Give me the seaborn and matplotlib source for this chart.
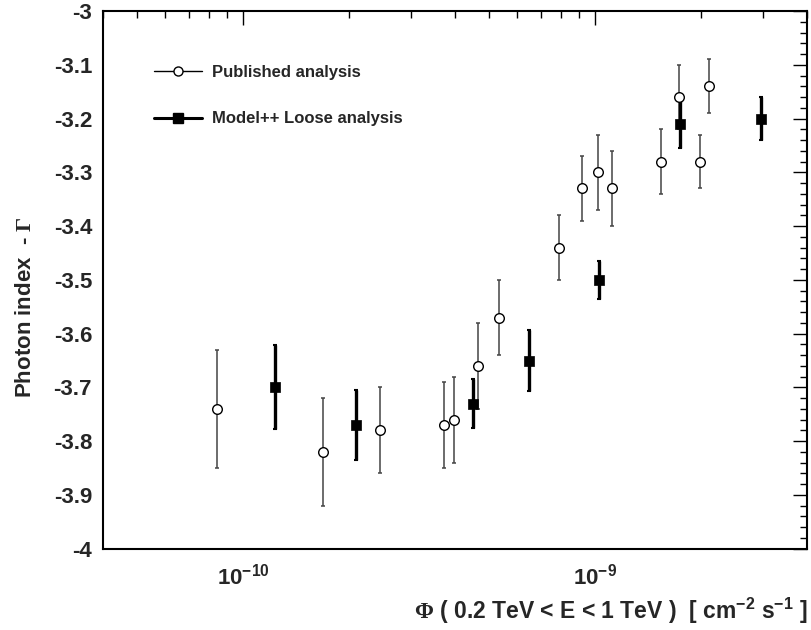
import matplotlib
matplotlib.use("Agg")
import matplotlib.pyplot as plt
import seaborn as sns
from matplotlib.lines import Line2D
from matplotlib.ticker import MultipleLocator, LogLocator, NullFormatter

# published analysis (open circles)
pub_flux = [8.42e-11, 1.69e-10, 2.45e-10, 3.73e-10, 3.97e-10, 4.65e-10, 5.33e-10,
            7.87e-10, 9.16e-10, 1.016e-9, 1.117e-9, 1.537e-9, 1.729e-9, 1.983e-9, 2.104e-9]
pub_index = [-3.74, -3.82, -3.78, -3.77, -3.76, -3.66, -3.57,
             -3.44, -3.33, -3.30, -3.33, -3.28, -3.16, -3.28, -3.14]
pub_err = [0.11, 0.10, 0.08, 0.08, 0.08, 0.08, 0.07,
           0.06, 0.06, 0.07, 0.07, 0.06, 0.06, 0.05, 0.05]

# Model++ Loose analysis (filled squares)
loose_flux = [1.228e-10, 2.095e-10, 4.49e-10, 6.49e-10, 1.026e-9, 1.745e-9, 2.95e-9]
loose_index = [-3.70, -3.77, -3.73, -3.65, -3.50, -3.21, -3.20]
loose_err = [0.078, 0.065, 0.045, 0.056, 0.036, 0.045, 0.04]

y_ticks = [-4.0, -3.9, -3.8, -3.7, -3.6, -3.5, -3.4, -3.3, -3.2, -3.1, -3.0]
x_ticks = [1e-10, 1e-9]
x_tick_labels = [r"$\mathbf{10^{-10}}$", r"$\mathbf{10^{-9}}$"]

sns.set_theme(style="white")
plt.rcParams["font.family"] = ["Liberation Sans", "DejaVu Sans"]
plt.rcParams["font.weight"] = "bold"
plt.rcParams["mathtext.fontset"] = "custom"
plt.rcParams["mathtext.rm"] = "Liberation Serif"
plt.rcParams["mathtext.bf"] = "Liberation Sans:bold"
plt.rcParams["axes.unicode_minus"] = False

fig = plt.figure(figsize=(8.12, 6.3), dpi=100)
ax = fig.add_axes([0.127, 0.129, 0.867, 0.8535])

ax.errorbar(pub_flux, pub_index, yerr=pub_err, fmt="none", ecolor="#444444",
            elinewidth=1.1, capsize=1.5, capthick=1.1, zorder=2)
ax.errorbar(loose_flux, loose_index, yerr=loose_err, fmt="none", ecolor="black",
            elinewidth=2.4, capsize=1.5, capthick=1.5, zorder=2)
sns.scatterplot(x=pub_flux, y=pub_index, marker="o", s=48, color="white",
                edgecolor="black", linewidth=1.0, ax=ax, zorder=3)
sns.scatterplot(x=loose_flux, y=loose_index, marker="s", s=62, color="black",
                edgecolor="black", linewidth=0.5, ax=ax, zorder=3)

ax.set_xscale("log")
ax.set_xlim(4e-11, 4e-9)
ax.set_ylim(-4, -3)
ax.xaxis.set_major_locator(LogLocator(base=10))
ax.xaxis.set_minor_locator(LogLocator(base=10, subs=range(2, 10)))
ax.xaxis.set_minor_formatter(NullFormatter())
ax.set_xticks(x_ticks, labels=x_tick_labels)
ax.set_yticks(y_ticks, labels=[f"{v:.1f}".replace(".0", "") for v in y_ticks])
ax.yaxis.set_minor_locator(MultipleLocator(0.02))

ax.tick_params(which="both", direction="in", top=True, right=True, labelsize=16,
               width=1.0, color="black")
ax.tick_params(which="major", length=10)
ax.tick_params(which="minor", length=5)
ax.tick_params(axis="y", pad=8)
ax.tick_params(axis="x", pad=11)
for sp in ax.spines.values():
    sp.set_linewidth(1.5)
    sp.set_color("black")

ax.set_xlabel(r"$\Phi$ ( 0.2 TeV < E < 1 TeV )  [ cm$^{\mathbf{-2}}$ s$^{\mathbf{-1}}$ ]",
              fontsize=16.5, fontweight="bold", loc="right", labelpad=4)
ax.set_ylabel(r"Photon index  - $\Gamma$", fontsize=16, fontweight="bold")
ax.yaxis.set_label_coords(-0.096, 0.45)

handles = [
    Line2D([], [], color="black", lw=1.0, marker="o", mfc="white", mec="black", ms=6.5),
    Line2D([], [], color="black", lw=2.2, marker="s", mfc="black", mec="black", ms=7),
]
ax.legend(handles, ["Published analysis", "Model++ Loose analysis"], loc="upper left",
          bbox_to_anchor=(0.072, 0.90), frameon=False, fontsize=12,
          handlelength=2.9, handletextpad=0.6, labelspacing=1.9, borderpad=0,
          borderaxespad=0)

fig.savefig("out.png", dpi=100)
